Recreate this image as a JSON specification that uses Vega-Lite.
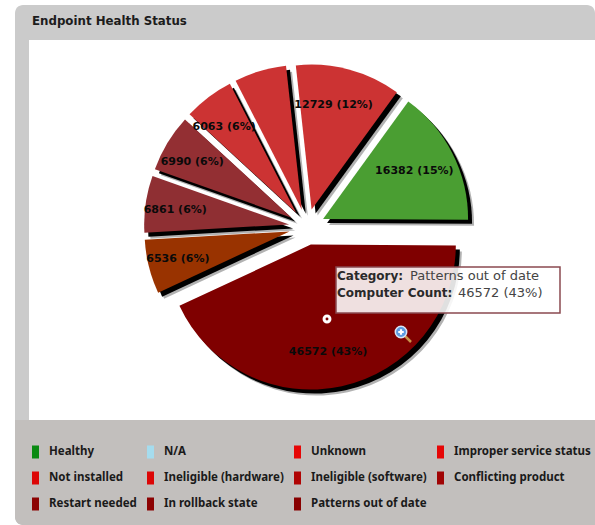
{
  "$schema": "https://vega.github.io/schema/vega-lite/v6.json",
  "width": 580,
  "height": 520,
  "autosize": {"type": "none"},
  "padding": {"left": 15, "top": 5, "right": 0, "bottom": 0},
  "background": "#ffffff",
  "view": {"fill": "#cbcbcb", "stroke": null, "cornerRadius": 8},
  "config": {"axis": {"disable": true}},
  "title": {
    "text": "Endpoint Health Status",
    "anchor": "start",
    "frame": "group",
    "offset": -23,
    "dx": 17,
    "font": "DejaVu Sans",
    "fontSize": 11.8,
    "fontWeight": "bold",
    "color": "#1c1c1c"
  },
  "data": {
    "values": [
      {"category": "Healthy", "value": 16382},
      {"category": "Patterns out of date", "value": 46572},
      {"category": "Restart needed", "value": 6536},
      {"category": "Conflicting product", "value": 6861},
      {"category": "Ineligible (software)", "value": 6990},
      {"category": "Ineligible (hardware)", "value": 6063},
      {"category": "Not installed", "value": 6300},
      {"category": "Improper service status", "value": 12729},
      {"category": "In rollback state", "value": 0},
      {"category": "Unknown", "value": 0},
      {"category": "N/A", "value": 0}
    ]
  },
  "transform": [
    {"joinaggregate": [{"op": "sum", "field": "value", "as": "total"}]},
    {"window": [{"op": "sum", "field": "value", "as": "running"}], "frame": [null, 0]},
    {"calculate": "PI / 5 + 2 * PI * datum.running / datum.total", "as": "a1"},
    {"calculate": "datum.a1 - 2 * PI * datum.value / datum.total", "as": "a0"},
    {"calculate": "(datum.a0 + datum.a1) / 2", "as": "mid"},
    {"calculate": "18 * sin(datum.mid)", "as": "cx"},
    {"calculate": "18 * cos(datum.mid)", "as": "cy"},
    {"calculate": "127 * sin(datum.mid)", "as": "lx"},
    {"calculate": "127 * cos(datum.mid)", "as": "ly"},
    {"calculate": "datum.value + ' (' + round(100 * datum.value / datum.total) + '%)'", "as": "label"}
  ],
  "resolve": {"scale": {"color": "independent"}},
  "layer": [
    {
      "description": "White plot panel",
      "data": {"values": [{}]},
      "mark": {"type": "rect", "fill": "#ffffff"},
      "encoding": {
        "x": {"datum": -278, "type": "quantitative", "scale": {"domain": [-292, 288], "nice": false, "zero": false}},
        "x2": {"datum": 288},
        "y": {"datum": 187, "type": "quantitative", "scale": {"domain": [-298, 222], "nice": false, "zero": false}},
        "y2": {"datum": -193}
      }
    },
    {
      "description": "Legend panel",
      "data": {"values": [{}]},
      "mark": {"type": "rect", "fill": "#c2bfbd", "cornerRadiusBottomLeft": 8},
      "encoding": {
        "x": {"datum": -292, "type": "quantitative"},
        "x2": {"datum": 288},
        "y": {"datum": -193, "type": "quantitative"},
        "y2": {"datum": -298}
      }
    },
    {
      "description": "Hidden marks that carry the legend",
      "mark": {"type": "point", "filled": true, "size": 0},
      "encoding": {
        "x": {"field": "cx", "type": "quantitative"},
        "y": {"field": "cy", "type": "quantitative"},
        "color": {
          "field": "category",
          "type": "nominal",
          "scale": {
            "domain": ["Healthy", "N/A", "Unknown", "Improper service status", "Not installed", "Ineligible (hardware)", "Ineligible (software)", "Conflicting product", "Restart needed", "In rollback state", "Patterns out of date"],
            "range": ["#0a8a12", "#a5dcee", "#e60606", "#e60606", "#dc0606", "#dc0606", "#b00404", "#a00404", "#8c0202", "#8c0202", "#880000"]
          },
          "legend": {
            "orient": "none",
            "legendX": 14,
            "legendY": 440.5,
            "title": null,
            "columns": 4,
            "direction": "horizontal",
            "padding": 0,
            "symbolType": "M-0.54,-1H0.54V1H-0.54Z",
            "symbolSize": 169,
            "symbolStrokeWidth": 0,
            "symbolOpacity": 1,
            "labelOffset": 7,
            "labelFont": "Noto Sans",
            "labelFontSize": 11.5,
            "labelFontWeight": "bold",
            "labelColor": "#1a1a1a",
            "labelLimit": 200,
            "columnPadding": 7,
            "rowPadding": 13
          }
        }
      }
    },
    {
      "description": "Soft outer edge of the slice shadows",
      "mark": {"type": "arc", "radius": 145, "fill": "#000000", "opacity": 0.3, "xOffset": 6, "yOffset": 6},
      "encoding": {
        "x": {"field": "cx", "type": "quantitative"},
        "y": {"field": "cy", "type": "quantitative"},
        "theta": {"field": "a0", "type": "quantitative", "scale": null, "stack": null},
        "theta2": {"field": "a1"}
      }
    },
    {
      "description": "Slice shadows",
      "mark": {"type": "arc", "radius": 145, "fill": "#000000", "xOffset": 4, "yOffset": 4},
      "encoding": {
        "x": {"field": "cx", "type": "quantitative"},
        "y": {"field": "cy", "type": "quantitative"},
        "theta": {"field": "a0", "type": "quantitative", "scale": null, "stack": null},
        "theta2": {"field": "a1"}
      }
    },
    {
      "description": "Exploded pie slices",
      "mark": {"type": "arc", "radius": 145},
      "encoding": {
        "x": {"field": "cx", "type": "quantitative"},
        "y": {"field": "cy", "type": "quantitative"},
        "theta": {"field": "a0", "type": "quantitative", "scale": null, "stack": null},
        "theta2": {"field": "a1"},
        "color": {
          "field": "category",
          "type": "nominal",
          "legend": null,
          "scale": {
            "domain": ["Healthy", "Patterns out of date", "Restart needed", "Conflicting product", "Ineligible (software)", "Ineligible (hardware)", "Not installed", "Improper service status"],
            "range": ["#4a9e32", "#7f0000", "#993300", "#8f2f33", "#932f33", "#cc3333", "#cc3333", "#cc3333"]
          }
        }
      }
    },
    {
      "description": "Slice value labels; the Not installed label is absent on this chart",
      "transform": [{"filter": "datum.value > 0 && datum.category !== 'Not installed'"}],
      "mark": {"type": "text", "font": "DejaVu Sans", "fontSize": 11, "fontWeight": "bold", "color": "#0a0a0a", "dx": -6, "dy": 1},
      "encoding": {
        "x": {"field": "lx", "type": "quantitative"},
        "y": {"field": "ly", "type": "quantitative"},
        "text": {"field": "label"}
      }
    },
    {
      "description": "Hover callout box",
      "data": {"values": [{}]},
      "mark": {"type": "rect", "fill": "#ffffff", "fillOpacity": 0.88, "stroke": "#8a4a50", "strokeWidth": 1.5},
      "encoding": {
        "x": {"datum": 29, "type": "quantitative"},
        "x2": {"datum": 253},
        "y": {"datum": -40, "type": "quantitative"},
        "y2": {"datum": -86}
      }
    },
    {
      "description": "Callout line 1, bold caption",
      "transform": [{"filter": "datum.category === 'Patterns out of date'"}],
      "mark": {"type": "text", "text": "Category:", "align": "left", "font": "DejaVu Sans", "fontSize": 12, "fontWeight": "bold", "color": "#2a2a2a"},
      "encoding": {"x": {"datum": 30, "type": "quantitative"}, "y": {"datum": -49, "type": "quantitative"}}
    },
    {
      "description": "Callout line 1, hovered category",
      "transform": [{"filter": "datum.category === 'Patterns out of date'"}],
      "mark": {"type": "text", "align": "left", "font": "DejaVu Sans", "fontSize": 13, "color": "#444444"},
      "encoding": {"x": {"datum": 103, "type": "quantitative"}, "y": {"datum": -49, "type": "quantitative"}, "text": {"field": "category"}}
    },
    {
      "description": "Callout line 2, bold caption",
      "transform": [{"filter": "datum.category === 'Patterns out of date'"}],
      "mark": {"type": "text", "text": "Computer Count:", "align": "left", "font": "DejaVu Sans", "fontSize": 12, "fontWeight": "bold", "color": "#2a2a2a"},
      "encoding": {"x": {"datum": 30, "type": "quantitative"}, "y": {"datum": -66, "type": "quantitative"}}
    },
    {
      "description": "Callout line 2, hovered value",
      "transform": [{"filter": "datum.category === 'Patterns out of date'"}],
      "mark": {"type": "text", "align": "left", "font": "DejaVu Sans", "fontSize": 13, "color": "#444444"},
      "encoding": {"x": {"datum": 151, "type": "quantitative"}, "y": {"datum": -66, "type": "quantitative"}, "text": {"field": "label"}}
    },
    {
      "description": "Hover marker ring",
      "data": {"values": [{}]},
      "mark": {"type": "point", "shape": "circle", "size": 35, "filled": false, "stroke": "#ffffff", "strokeWidth": 3, "opacity": 1},
      "encoding": {"x": {"datum": 20, "type": "quantitative"}, "y": {"datum": -92, "type": "quantitative"}}
    },
    {
      "description": "Zoom cursor handle",
      "data": {"values": [{}]},
      "mark": {"type": "rule", "stroke": "#c9944a", "strokeWidth": 2.5},
      "encoding": {
        "x": {"datum": 98, "type": "quantitative"},
        "x2": {"datum": 104},
        "y": {"datum": -109, "type": "quantitative"},
        "y2": {"datum": -115}
      }
    },
    {
      "description": "Zoom cursor lens",
      "data": {"values": [{}]},
      "mark": {"type": "point", "shape": "circle", "size": 130, "filled": true, "fill": "#5c9be0", "stroke": "#d8e6f5", "strokeWidth": 1.5, "opacity": 1},
      "encoding": {"x": {"datum": 94, "type": "quantitative"}, "y": {"datum": -105, "type": "quantitative"}}
    },
    {
      "description": "Zoom cursor plus sign",
      "data": {"values": [{}]},
      "mark": {"type": "point", "shape": "cross", "size": 30, "filled": true, "fill": "#ffffff", "opacity": 1, "strokeWidth": 0},
      "encoding": {"x": {"datum": 94, "type": "quantitative"}, "y": {"datum": -105, "type": "quantitative"}}
    }
  ]
}
